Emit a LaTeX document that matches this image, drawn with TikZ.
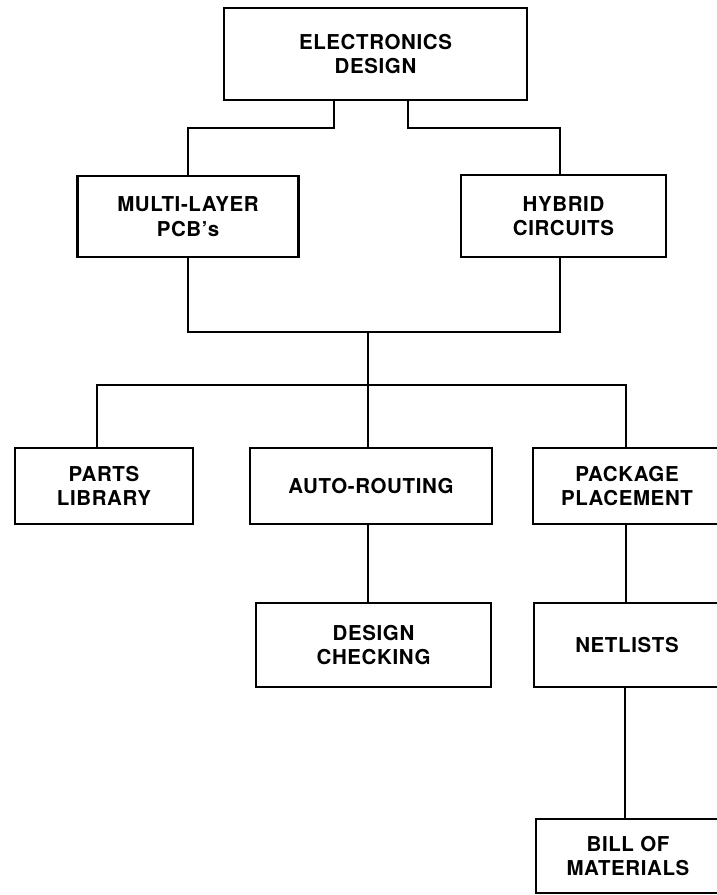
\documentclass[tikz,border=0pt]{standalone}
\usepackage{fontspec}
\setmainfont{TeX Gyre Heros}[LetterSpace=3]
\begin{document}
\begin{tikzpicture}[x=1pt,y=-1pt,
  box/.style={draw=black, line width=2.8pt, fill=white, inner sep=0pt, align=center,
    font=\bfseries\fontsize{20.5}{24.5}\selectfont},
  link/.style={draw=black, line width=2.7pt}]
\useasboundingbox (0,0) rectangle (717,895);
\fill[white] (0,0) rectangle (717,895);
% nodes
\node[box, minimum width=303pt, minimum height=92pt] (top) at (375.5,54) {ELECTRONICS\\DESIGN};
\node[box, minimum width=221pt, minimum height=81pt] (multi) at (188,216.5) {MULTI-LAYER\\PCB's};
\node[box, minimum width=205pt, minimum height=82pt] (hybrid) at (563.5,216) {HYBRID\\CIRCUITS};
\node[box, minimum width=178pt, minimum height=76pt] (parts) at (104,486) {PARTS\\LIBRARY};
\node[box, minimum width=242pt, minimum height=76pt] (auto) at (371,486) {AUTO-ROUTING};
\node[box, minimum width=188pt, minimum height=76pt] (pack) at (627,486) {PACKAGE\\PLACEMENT};
\node[box, minimum width=235pt, minimum height=84pt] (design) at (373.5,645) {DESIGN\\CHECKING};
\node[box, minimum width=186pt, minimum height=84pt] (net) at (627,645) {NETLISTS};
\node[box, minimum width=184pt, minimum height=74pt] (bill) at (628,856) {BILL OF\\MATERIALS};
% junctions
\coordinate (t1) at (334,128);
\coordinate (t2) at (408,128);
\coordinate (j1) at (368,332);
\coordinate (j2) at (368,385);
% connectors
\draw[link] (top.south -| t1) -- (t1) -| (multi.north);
\draw[link] (top.south -| t2) -- (t2) -| ([xshift=-3.5pt]hybrid.north);
\draw[link] (multi.south) |- (j1);
\draw[link] ([xshift=-3.5pt]hybrid.south) |- (j1);
\draw[link] (j1) -- (j2);
\draw[link] (j2) -| ([xshift=-7pt]parts.north);
\draw[link] (j2) -| ([xshift=-1pt]pack.north);
\draw[link] (j2) -- (auto.north -| j2);
\draw[link] (auto.south -| j2) -- (design.north -| j2);
\draw[link] ([xshift=-1pt]pack.south) -- ([xshift=-1pt]pack.south |- net.north);
\draw[link] ([xshift=-2pt]net.south) -- ([xshift=-2pt]net.south |- bill.north);
\end{tikzpicture}
\end{document}
